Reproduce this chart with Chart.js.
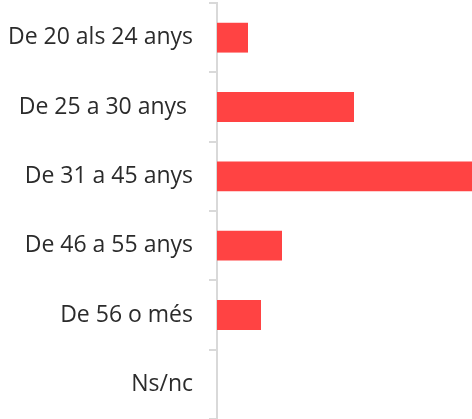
<!DOCTYPE html>
<html>
<head>
<meta charset="utf-8">
<script src="https://cdn.jsdelivr.net/npm/chart.js@4"></script>
<style>
  html, body { margin: 0; padding: 0; background: #fff; }
  #wrap { width: 472px; height: 419px; }
</style>
</head>
<body>
<div id="wrap"><canvas id="chart"></canvas></div>
<script>
// categories and values (% approx)
const categories = ['De 20 als 24 anys', 'De 25 a 30 anys ', 'De 31 a 45 anys', 'De 46 a 55 anys', 'De 56 o més', 'Ns/nc'];
const values = [6.2, 27.4, 56, 13, 8.8, 0];
const xMax = 51;

const ctx = document.getElementById('chart').getContext('2d');
new Chart(ctx, {
    type: 'bar',
    data: {
        labels: categories,
        datasets: [{
            data: values,
            backgroundColor: '#ff4343',
            borderWidth: 0,
            barPercentage: 0.43,
            categoryPercentage: 1
        }]
    },
    options: {
        indexAxis: 'y',
        responsive: true,
        maintainAspectRatio: false,
        animation: false,
        layout: { padding: { top: 3, bottom: 0, left: 0, right: 0 } },
        plugins: {
            legend: { display: false },
            tooltip: { enabled: false }
        },
        scales: {
            x: {
                display: false,
                min: 0,
                max: xMax
            },
            y: {
                afterFit: function (scale) {
                    scale.width = 217;
                    scale.paddingTop = 0;
                    scale.paddingBottom = 0;
                },
                grid: {
                    offset: true,
                    drawOnChartArea: false,
                    drawTicks: true,
                    tickLength: 8,
                    color: '#d9d9d9',
                    lineWidth: 2
                },
                border: { color: '#d9d9d9', width: 2 },
                ticks: {
                    padding: 16,
                    color: '#2b2b2b',
                    font: { family: 'Open Sans', size: 23 }
                }
            }
        }
    }
});
</script>
</body>
</html>
